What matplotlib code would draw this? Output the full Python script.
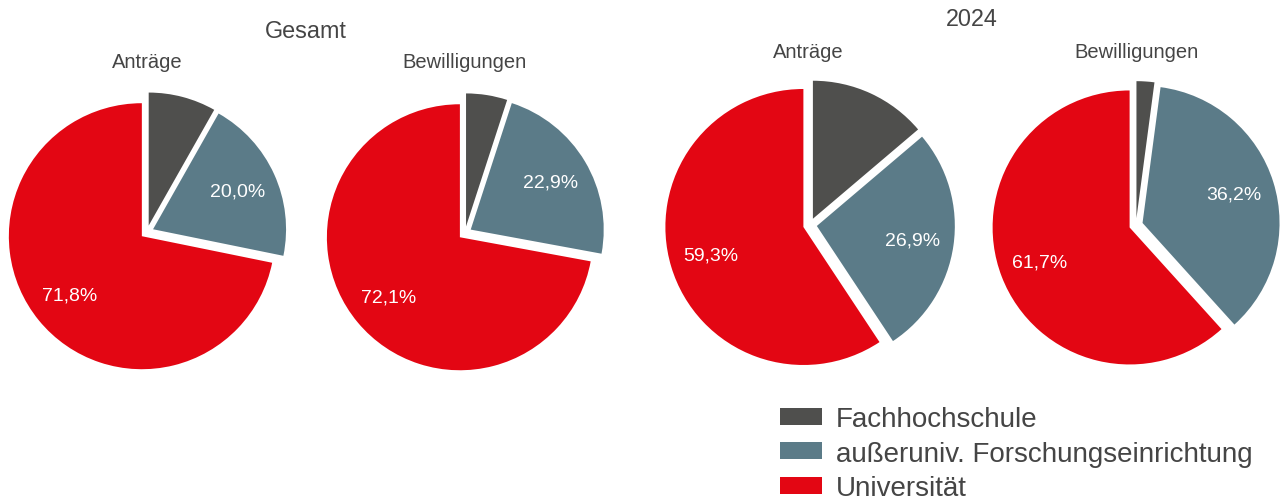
import matplotlib.pyplot as plt
from matplotlib.patches import Patch

plt.rcParams['font.family'] = ['Liberation Sans', 'DejaVu Sans']

# data
categories = ["Fachhochschule", "außeruniv. Forschungseinrichtung", "Universität"]
gesamt_antraege = [8.2, 20.0, 71.8]
gesamt_bewilligungen = [5.0, 22.9, 72.1]
y2024_antraege = [13.8, 26.9, 59.3]
y2024_bewilligungen = [2.1, 36.2, 61.7]
group_titles = ["Gesamt", "2024"]
pie_titles = ["Anträge", "Bewilligungen", "Anträge", "Bewilligungen"]

colors = ["#4f4f4d", "#5b7b88", "#e30613"]
text_color = "#454545"

W, H = 1283, 502
fig = plt.figure(figsize=(W / 100, H / 100), dpi=100)

# pie centre (px from top-left) and radius (px)
layout = [(147, 233, 133), (465, 234, 133), (810, 226, 138), (1136, 226, 137)]
series = [gesamt_antraege, gesamt_bewilligungen, y2024_antraege, y2024_bewilligungen]


def fmt(pct):
    if pct < 15:
        return ""
    return f"{pct:.1f}%".replace(".", ",")


for (cx, cy, r), vals in zip(layout, series):
    L = 1.25
    ax = fig.add_axes([(cx - L * r) / W, 1 - (cy + L * r) / H, 2 * L * r / W, 2 * L * r / H])
    ax.pie(vals, colors=colors, startangle=90, counterclock=False,
           explode=[0.05] * len(vals), autopct=fmt, pctdistance=0.7,
           textprops=dict(color="white", fontsize=14),
           wedgeprops=dict(linewidth=0))
    ax.set_xlim(-L, L)
    ax.set_ylim(-L, L)
    ax.axis("off")

# titles
fig.text(306 / W, 1 - 32 / H, group_titles[0], ha="center", va="center",
         fontsize=16.8, color=text_color)
fig.text(972 / W, 1 - 20 / H, group_titles[1], ha="center", va="center",
         fontsize=16.8, color=text_color)
for (x, y), t in zip([(147, 63), (464, 63), (808, 52), (1136, 52)], pie_titles):
    fig.text(x / W, 1 - y / H, t, ha="center", va="center", fontsize=14.5, color=text_color)

handles = [Patch(facecolor=c, edgecolor="none") for c in colors]
fig.legend(handles, categories, loc="upper left", bbox_to_anchor=(780 / W, 1 - 407 / H),
           frameon=False, fontsize=20, borderpad=0, borderaxespad=0,
           handlelength=1.5, handleheight=0.58, handletextpad=0.5,
           labelspacing=0.31, labelcolor=text_color)

fig.savefig("out.png", dpi=100)
